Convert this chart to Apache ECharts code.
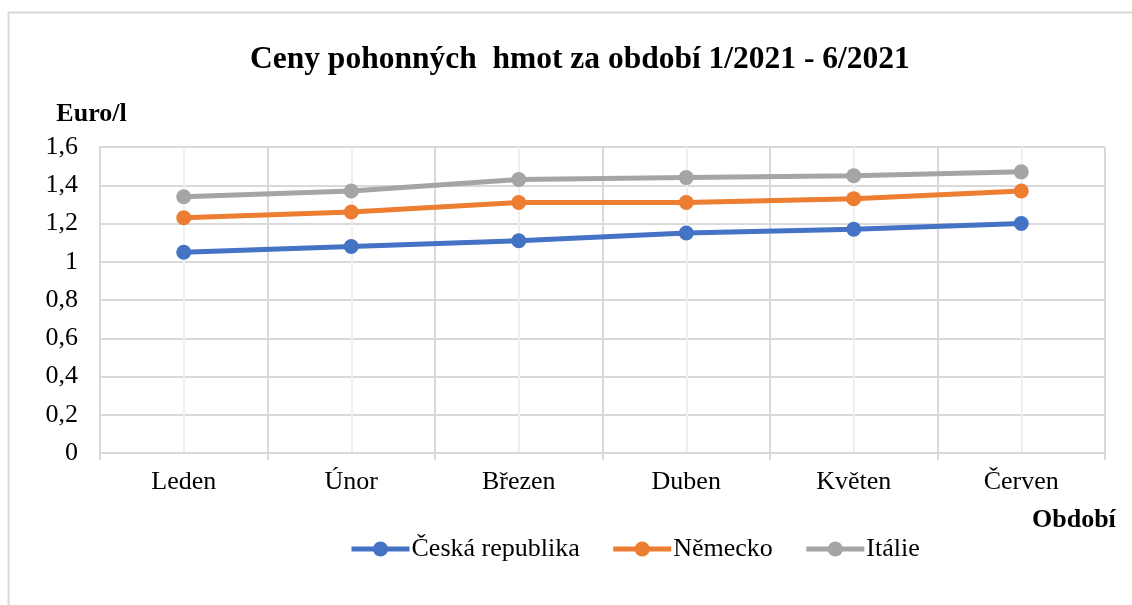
<!DOCTYPE html>
<html>
<head>
<meta charset="utf-8">
<script src="https://cdn.jsdelivr.net/npm/echarts@6/dist/echarts.min.js"></script>
<style>
  html, body { margin: 0; padding: 0; background: #fff; }
  #chart { width: 1132px; height: 605px; }
</style>
</head>
<body>
<div id="chart"></div>
<script>
// Měsíce 1/2021 - 6/2021
const months = ['Leden', 'Únor', 'Březen', 'Duben', 'Květen', 'Červen'];

// Ceny v Euro/l
const ceskaRepublika = [1.05, 1.08, 1.11, 1.15, 1.17, 1.20];
const nemecko        = [1.23, 1.26, 1.31, 1.31, 1.33, 1.37];
const italie         = [1.34, 1.37, 1.43, 1.44, 1.45, 1.47];

const seriesNames  = ['Česká republika', 'Německo', 'Itálie'];
const seriesColors = ['#4472C4', '#ED7D31', '#A5A5A5'];

const FONT = "'Liberation Serif', 'Times New Roman', serif";
const GRID_COLOR = '#d9d9d9';

const chart = echarts.init(document.getElementById('chart'), null, { renderer: 'canvas' });

function lineSeries(name, data, color) {
  return {
    name: name,
    type: 'line',
    data: data,
    xAxisIndex: 0,
    symbol: 'circle',
    symbolSize: 15,
    lineStyle: { color: color, width: 5 },
    itemStyle: { color: color },
    emphasis: { disabled: true },
  };
}

chart.setOption({
  backgroundColor: '#fff',
  animation: false,
  title: {
    text: 'Ceny pohonných  hmot za období 1/2021 - 6/2021',
    left: 245,
    top: 39,
    textStyle: { fontFamily: FONT, fontSize: 31.5, fontWeight: 'bold', color: '#000' },
  },
  graphic: [{
    type: 'rect',
    shape: { x: 8.5, y: 12.5, width: 1300, height: 800 },
    style: { fill: 'none', stroke: GRID_COLOR, lineWidth: 2 },
    silent: true,
  }, {
    // název osy x
    type: 'text',
    left: 1032,
    top: 507,
    style: {
      text: 'Období',
      font: "bold 26px 'Liberation Serif', 'Times New Roman', serif",
      fill: '#000',
    },
    silent: true,
  }],
  grid: { left: 100, right: 27, top: 147, bottom: 152, containLabel: false },
  legend: {
    left: 344,
    top: 531,
    itemWidth: 58,
    itemHeight: 19,
    itemGap: 31,
    lineStyle: { width: 5 },
    textStyle: { fontFamily: FONT, fontSize: 26, color: '#000', padding: [0, 0, 0, -3] },
    data: seriesNames,
  },
  xAxis: [{
    type: 'category',
    data: months,
    boundaryGap: true,
    axisLine: { lineStyle: { color: GRID_COLOR, width: 2 } },
    axisTick: { show: true, length: 7, lineStyle: { color: GRID_COLOR, width: 2 } },
    axisLabel: { fontFamily: FONT, fontSize: 26, color: '#000', margin: 16 },
    splitLine: { show: true, lineStyle: { color: GRID_COLOR, width: 2 } },
  }, {
    // pomocná osa jen pro světlé čáry uprostřed kategorií
    type: 'value',
    min: 0,
    max: 6,
    interval: 1,
    position: 'top',
    axisLine: { show: false },
    axisTick: { show: false },
    axisLabel: { show: false },
    splitLine: { show: false },
    minorTick: { show: false, splitNumber: 2 },
    minorSplitLine: { show: true, lineStyle: { color: '#efefef', width: 2 } },
  }],
  yAxis: {
    type: 'value',
    min: 0,
    max: 1.6,
    interval: 0.2,
    name: 'Euro/l',
    nameLocation: 'end',
    nameGap: 20,
    nameTextStyle: {
      fontFamily: FONT, fontSize: 26, fontWeight: 'bold', color: '#000',
      align: 'center', padding: [0, 17, 0, 0],
    },
    axisLine: { show: true, lineStyle: { color: GRID_COLOR, width: 2 } },
    axisTick: { show: false },
    axisLabel: {
      fontFamily: FONT, fontSize: 26, color: '#000', margin: 22,
      formatter: v => String(+v.toFixed(1)).replace('.', ','),
    },
    splitLine: { show: true, lineStyle: { color: GRID_COLOR, width: 2 } },
  },
  series: [
    lineSeries(seriesNames[0], ceskaRepublika, seriesColors[0]),
    lineSeries(seriesNames[1], nemecko, seriesColors[1]),
    lineSeries(seriesNames[2], italie, seriesColors[2]),
  ],
});
</script>
</body>
</html>
